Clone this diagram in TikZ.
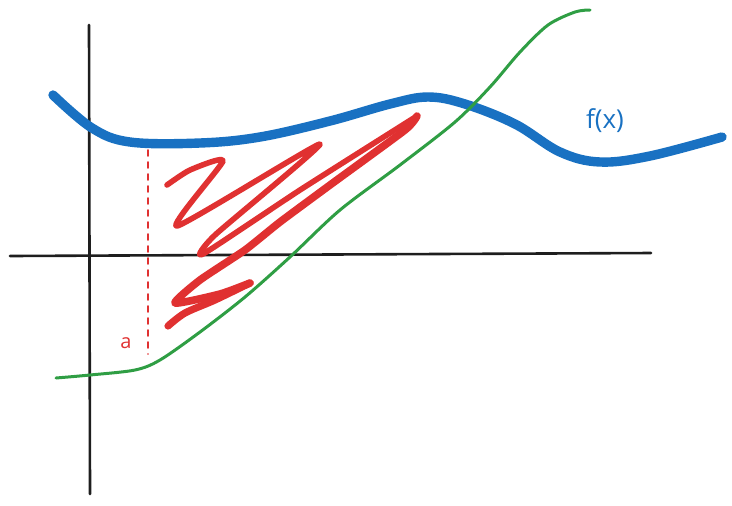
\documentclass[tikz,border=0pt]{standalone}
\usepackage{fontspec}
\setmainfont{Open Sans}
\definecolor{penblue}{HTML}{1971C2}
\definecolor{penred}{HTML}{E03131}
\definecolor{pengreen}{HTML}{2F9E44}
\definecolor{penblack}{HTML}{1E1E1E}
\begin{document}
\begin{tikzpicture}[x=0.5pt,y=-0.5pt,line cap=round,line join=round]
  \useasboundingbox (0,0) rectangle (732,505);
  % axes
  \coordinate (ytop) at (89,25); \coordinate (ybot) at (90,494);
  \coordinate (xl) at (10,256); \coordinate (xr) at (651,253);
  \draw[penblack,line width=1.3pt] (ytop)--(ybot);
  \draw[penblack,line width=1.3pt] (xl)--(xr);
  % f(x)
  \draw[penblue,line width=4.7pt] plot[smooth,tension=0.6] coordinates {
    (53,95) (92,128) (130,142) (200,143) (260,137) (330,121)
    (390,104) (428,97) (465,104) (515,124) (560,152) (600,162) (650,156) (722,137)};
  \node[penblue,font=\fontsize{13}{13}\selectfont] (fx) at (605,121) {f(x)};
  % lower curve
  \draw[pengreen,line width=1.5pt] plot[smooth,tension=0.5] coordinates {
    (56,378) (90,375) (135,370) (160,360) (200,332) (245,297) (290,257)
    (340,210) (400,165) (455,122) (490,87) (520,52) (548,25) (575,12) (590,10)};
  % a
  \coordinate (atop) at (148,150); \coordinate (abot) at (148,354);
  \draw[penred,line width=0.8pt,dashed] (atop)--(abot);
  \node[penred,font=\fontsize{10}{10}\selectfont] (a) at (126,343) {a};
  % scribble
  \draw[penred,line width=2.8pt] plot[smooth,tension=0.35] coordinates {
    (167,185) (190,170) (223,161) (177,226) (320,144) (215,235) (203,254)
    (300,190) (417,116)};
  \draw[penred,line width=3.8pt] plot[smooth,tension=0.35] coordinates {
    (417,116) (405,130) (330,185) (280,222) (245,250) (200,280)
    (175,303) (220,294) (250,283)};
  \draw[penred,line width=3.6pt] plot[smooth,tension=0.5] coordinates {
    (250,283) (215,300) (185,313) (168,326)};
\end{tikzpicture}
\end{document}
